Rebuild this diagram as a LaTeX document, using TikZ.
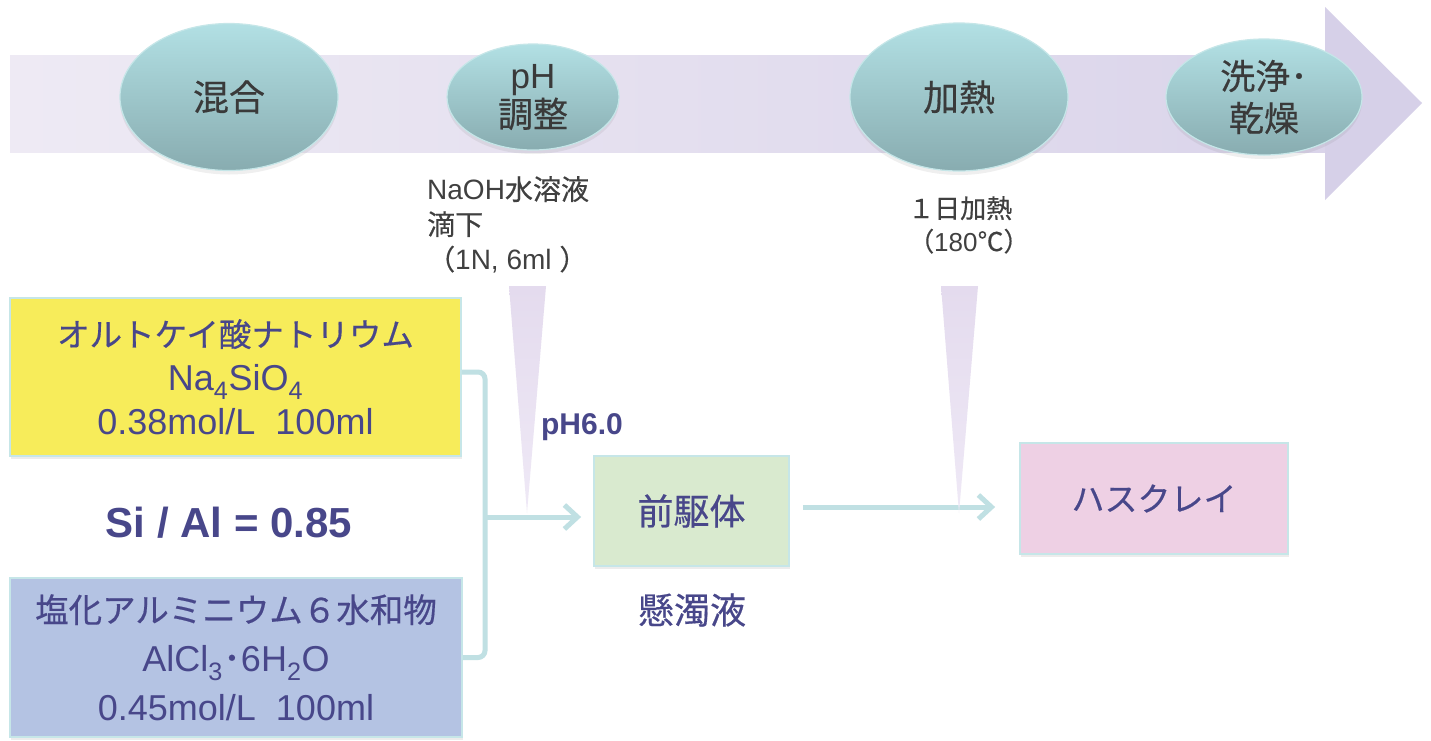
\documentclass[tikz,border=0pt]{standalone}
\usepackage{fontspec}
\setmainfont{Liberation Sans}
\newfontfamily\jp[FakeBold=0.45]{Noto Sans CJK JP}
\usetikzlibrary{shapes.geometric,arrows.meta,shadows}
\newcommand\setfs[2]{\fontsize{#1}{#2}\selectfont}
\definecolor{bandL}{HTML}{EEEAF4}
\definecolor{bandR}{HTML}{DAD4EA}
\definecolor{arrowHead}{HTML}{D6D0E8}
\definecolor{ellTop}{HTML}{B2E0E4}
\definecolor{ellBot}{HTML}{88ACB0}
\definecolor{ellBorder}{HTML}{C5E6E8}
\definecolor{ellText}{HTML}{3A3A3A}
\definecolor{labText}{HTML}{404040}
\definecolor{yellowF}{HTML}{F7EC5A}
\definecolor{blueF}{HTML}{B4C3E3}
\definecolor{greenF}{HTML}{D9EACF}
\definecolor{pinkF}{HTML}{EED0E4}
\definecolor{boxBorder}{HTML}{C6E6E8}
\definecolor{connCol}{HTML}{C0E0E3}
\definecolor{triTop}{HTML}{E4DBEE}
\definecolor{triBot}{HTML}{EFE9F6}
\definecolor{txtBlue}{HTML}{48478A}
\begin{document}
\begin{tikzpicture}[x=1pt,y=-1pt,
  ell/.style={ellipse, draw=ellBorder, line width=1.2pt, top color=ellTop, bottom color=ellBot,
    inner sep=0pt, align=center, text=ellText,
    drop shadow={shadow xshift=0pt, shadow yshift=-4pt, opacity=0.10, fill=black!60}},
  box/.style={rectangle, draw=boxBorder, line width=1.8pt, inner sep=0pt, align=center, text=txtBlue,
    drop shadow={shadow xshift=1pt, shadow yshift=-3pt, opacity=0.15, fill=black!50}},
  conn/.style={draw=connCol, line width=5pt},
  tip/.style={-{Straight Barb[length=13pt,width=24pt]}},
  tri/.style={top color=triTop, bottom color=triBot},
  lab/.style={text=labText, inner sep=0pt, align=left},
]
\useasboundingbox (0,0) rectangle (1431,740);
\fill[white] (0,0) rectangle (1431,740);
% process band
\shade[left color=bandL, right color=bandR] (10,55) rectangle (1326,152);
\fill[arrowHead] (1325,7) -- (1422,103) -- (1325,200) -- cycle;
% process steps
\node[ell, minimum width=218pt, minimum height=147pt, font=\jp\setfs{36}{40}] (mix) at (229,97) {混合};
\node[ell, minimum width=172pt, minimum height=106pt, font=\setfs{35}{39}] (ph) at (533,97) {pH\\{\jp 調整}};
\node[ell, minimum width=218pt, minimum height=148pt, font=\jp\setfs{36}{40}] (heat) at (959,97) {加熱};
\node[ell, minimum width=196pt, minimum height=116pt, font=\jp\setfs{35}{42}] (wash) at (1264,97) {洗浄･\\乾燥};
% labels under steps
\node[lab, anchor=north west, font=\setfs{28}{35}] (naoh) at (427,176) {NaOH{\jp 水溶液}\\{\jp 滴下}\\{\jp （}1N, 6ml {\jp ）}};
\node[lab, anchor=north west, font=\setfs{26}{33}] (heatlab) at (908,196) {{\jp １日加熱}\\{\jp （}180{\jp ℃）}};
% boxes
\node[box, fill=yellowF, minimum width=451pt, minimum height=158pt, font=\setfs{36}{44}] (yellow) at (235.5,377)
  {{\jp\setfs{32.5}{44}オルトケイ酸ナトリウム}\\Na\textsubscript{4}SiO\textsubscript{4}\\0.38mol/L\ \ 100ml};
\node[box, fill=blueF, minimum width=452pt, minimum height=159pt, font=\setfs{36}{49}] (blue) at (236,657.5)
  {{\jp\setfs{33.5}{49}塩化アルミニウム６水和物}\\AlCl\textsubscript{3}{\jp ･}6H\textsubscript{2}O\\0.45mol/L\ \ 100ml};
\node[box, fill=greenF, minimum width=195pt, minimum height=110pt, font=\jp\setfs{36}{40}] (green) at (691.5,511) {前駆体};
\node[box, fill=pinkF, minimum width=268pt, minimum height=111pt, font=\jp\setfs{33}{36}] (pink) at (1154,498.5) {ハスクレイ};
% free texts
\node[font=\bfseries\setfs{42}{45}, text=txtBlue] (sial) at (229,523) {Si / Al = 0.85};
\node[font=\bfseries\setfs{30}{34}, text=txtBlue] (ph6) at (582,427) {pH6.0};
\node[font=\jp\setfs{36}{40}, text=txtBlue] (kendaku) at (692,610) {懸濁液};
% connectors
\coordinate (jn) at (485,517);
\draw[conn, rounded corners=7pt] ([yshift=5pt]yellow.east) -| (jn) |- (blue.east);
\draw[conn, tip, shorten >=12pt] (jn) -- (jn -| green.west);
\draw[conn, tip, shorten <=13pt, shorten >=24pt] ([yshift=4pt]green.east) -- ([yshift=4pt]green.east -| pink.west);
% dropping wedges
\shade[tri] (509,286) -- (546,286) -- (527,513) -- cycle;
\shade[tri] (941,286) -- (978,286) -- (959,513) -- cycle;
\end{tikzpicture}
\end{document}
